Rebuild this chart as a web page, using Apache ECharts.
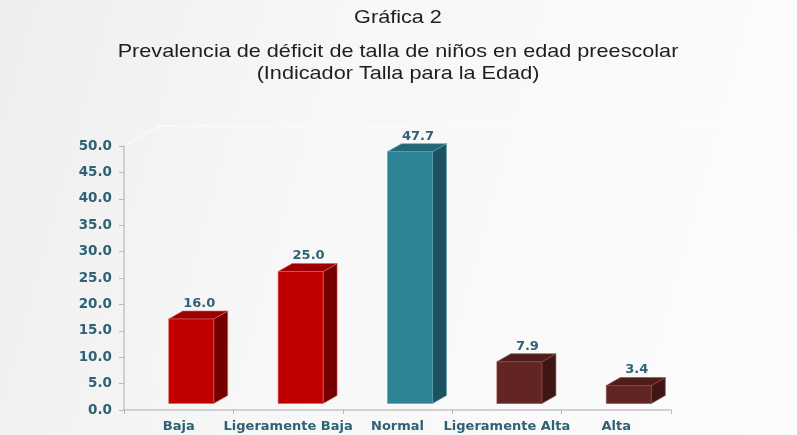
<!DOCTYPE html>
<html>
<head>
<meta charset="utf-8">
<style>
	html, body { margin: 0; padding: 0; }
	#main { width: 797px; height: 435px; }
</style>
<script src="https://cdn.jsdelivr.net/npm/echarts@6/dist/echarts.min.js"></script>
</head>
<body>
<div id="main"></div>
<script>
// datos de la gráfica
var categorias = ['Baja', 'Ligeramente Baja', 'Normal', 'Ligeramente Alta', 'Alta'];
var valores = [16.0, 25.0, 47.7, 7.9, 3.4];
var ticksY = [0, 50, 5];
var titulos = ['Gráfica 2', 'Prevalencia de déficit de talla de niños en edad preescolar', '(Indicador Talla para la Edad)'];

// colores de cada barra: frente, lado, tapa, borde
var frente = ['#c00000', '#c00000', '#2e8497', '#632523', '#632523'];
var lado = ['#760000', '#760000', '#1f5261', '#3f1614', '#3f1614'];
var tapa = ['#9c0000', '#9c0000', '#246677', '#4f1d1b', '#4f1d1b'];
var borde = ['#e06060', '#e06060', '#5aa5b8', '#8a4a48', '#8a4a48'];

var myChart = echarts.init(document.getElementById('main'));

function barra3d(params, api) {
	var i = api.value(0), v = api.value(1);
	var base = api.coord([i, 0]);
	var alto = api.coord([i, v]);
	var w = 45, dx = 14, dy = 8, lift = 6.5;
	var x0 = base[0] - 10;
	var yb = base[1] - lift, yt = alto[1] - lift;
	return {
		type: 'group',
		children: [
			{
				type: 'polygon',
				shape: { points: [[x0 + w, yt], [x0 + w + dx, yt - dy], [x0 + w + dx, yb - dy], [x0 + w, yb]] },
				style: { fill: lado[i], stroke: borde[i], lineWidth: 0.6 }
			},
			{
				type: 'polygon',
				shape: { points: [[x0, yt], [x0 + dx, yt - dy], [x0 + w + dx, yt - dy], [x0 + w, yt]] },
				style: { fill: tapa[i], stroke: borde[i], lineWidth: 0.6 }
			},
			{
				type: 'rect',
				shape: { x: x0, y: yt, width: w, height: yb - yt },
				style: { fill: frente[i], stroke: borde[i], lineWidth: 0.6 }
			},
			{
				type: 'text',
				x: x0 + (w + dx) / 2 + 1,
				y: yt - dy - 1,
				style: {
					text: v.toFixed(1),
					fill: '#2e6275',
					font: 'bold 13px "DejaVu Sans"',
					align: 'center',
					verticalAlign: 'bottom'
				}
			}
		]
	};
}

var option = {
	backgroundColor: {
		type: 'linear', x: 0, y: 0, x2: 1, y2: 0.5,
		colorStops: [
			{ offset: 0, color: '#eeeeee' },
			{ offset: 0.4, color: '#f7f7f7' },
			{ offset: 1, color: '#fcfcfc' }
		]
	},
	grid: { left: 124, right: 126, top: 146, bottom: 25 },
	xAxis: {
		type: 'category',
		data: categorias,
		axisLine: { lineStyle: { color: '#c4c4c4', width: 1.5 } },
		axisTick: { show: true, length: 4, lineStyle: { color: '#b8b8b8' } },
		axisLabel: {
			interval: 0,
			color: '#2e6275',
			fontFamily: 'DejaVu Sans',
			fontWeight: 'bold',
			fontSize: 13,
			margin: 10
		}
	},
	yAxis: {
		type: 'value',
		min: ticksY[0],
		max: ticksY[1],
		interval: ticksY[2],
		axisLine: { show: true, lineStyle: { color: '#c4c4c4', width: 1.5 } },
		axisTick: { show: true, length: 5, lineStyle: { color: '#b8b8b8' } },
		splitLine: { show: false },
		axisLabel: {
			color: '#2e6275',
			fontFamily: 'DejaVu Sans',
			fontWeight: 'bold',
			fontSize: 13.5,
			margin: 12,
			formatter: function (v) { return v.toFixed(1); }
		}
	},
	series: [
		{
			type: 'custom',
			renderItem: barra3d,
			data: valores.map(function (v, i) { return [i, v]; }),
			encode: { x: 0, y: 1 }
		}
	]
};

myChart.setOption(option);

// títulos (el original está algo estirado en horizontal) y pared de fondo tenue
var p0 = myChart.convertToPixel({ gridIndex: 0 }, [0, 50]);
var izq = 124, der = 671, arr = p0[1];
var lineasY = [8, 42, 64];
var graficos = titulos.map(function (t, k) {
	return {
		type: 'text', silent: true,
		x: 398, y: lineasY[k], scaleX: 1.17,
		style: {
			text: t,
			fill: '#1e1e1e',
			font: '18.5px "Liberation Sans"',
			align: 'center',
			verticalAlign: 'top'
		}
	};
});
graficos.push(
	{
		type: 'polyline', silent: true, z: -1,
		shape: { points: [[izq, arr], [izq + 36, arr - 20], [der + 60, arr - 20]] },
		style: { stroke: 'rgba(255,255,255,0.8)', lineWidth: 1.2, fill: null }
	},
	{
		type: 'line', silent: true, z: -1,
		shape: { x1: izq + 36, y1: arr - 20, x2: izq + 36, y2: 380 },
		style: { stroke: 'rgba(255,255,255,0.6)', lineWidth: 1 }
	}
);
myChart.setOption({ graphic: graficos });
</script>
</body>
</html>
